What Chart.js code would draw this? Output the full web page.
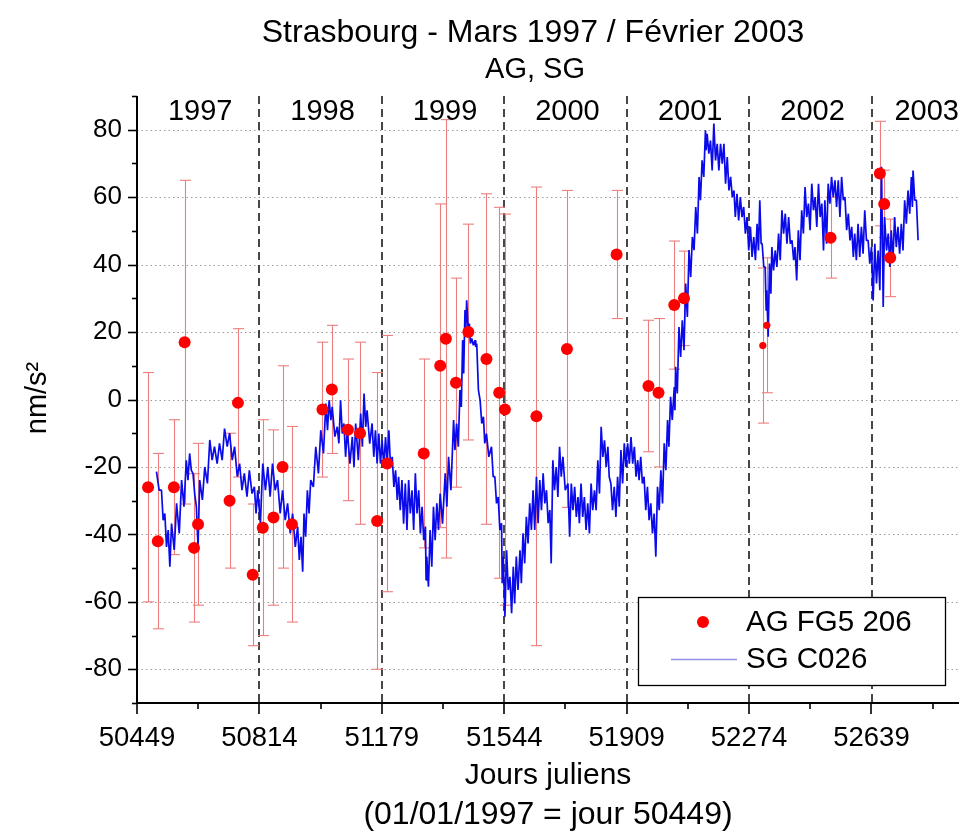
<!DOCTYPE html>
<html>
<head>
<meta charset="utf-8">
<script src="https://cdn.jsdelivr.net/npm/chart.js@4.4.1/dist/chart.umd.min.js"></script>
<style>
  html, body { margin: 0; padding: 0; background: #fff; }
  #wrap { width: 965px; height: 834px; }
</style>
</head>
<body>
<div id="wrap"><canvas id="chart" width="965" height="834"></canvas></div>
<script>
// Absolute gravity measurements (FG5 #206): Julian day, value and uncertainty (nm/s²)
const agDays = [50482, 50511, 50559, 50591, 50619, 50631, 50725, 50750, 50794, 50824,
                50856, 50883, 50911, 51002, 51030, 51078, 51114, 51165, 51195, 51304,
                51353, 51370, 51400, 51437, 51491, 51529, 51546, 51640, 51731, 51879,
                51974, 52004, 52051, 52080, 52315, 52327, 52517, 52664, 52677, 52695];
const agValues = [-26, -42, -26, 17, -44, -37, -30, -1, -52, -38,
                  -35, -20, -37, -3, 3, -9, -10, -36, -19, -16,
                  10, 18, 5, 20, 12, 2, -3, -5, 15, 43,
                  4, 2, 28, 30, 16, 22, 48, 67, 58, 42];
const agErrors = [34, 26, 20, 48, 22, 24, 20, 22, 21, 32,
                  26, 30, 29, 20, 19, 21, 27, 44, 38, 28,
                  48, 65, 31, 32, 49, 55, 58, 68, 47, 19,
                  19.5, 22, 19, 14, 23, 20, 12, 15.5, 10, 11.5];

// Superconducting gravimeter C026 residuals: Julian day / value (nm/s²)
const sgDays = [
  50507,50515, 50522,50527, 50532,50537, 50542,50547, 50552,50560, 50567,50575, 50582,50589, 50596,50601, 50606,50611, 50616,50621,
  50626,50631, 50636,50644, 50651,50659, 50666,50673, 50680,50688, 50695,50703, 50710,50718, 50725,50733, 50740,50748, 50755,50762,
  50769,50777, 50784,50792, 50799,50804, 50809,50817, 50824,50832, 50839,50846, 50853,50861, 50868,50876, 50883,50891, 50898,50906,
  50913,50921, 50928,50933, 50938,50943, 50947,50952, 50957,50962, 50967,50975, 50982,50990, 50997,51005, 51012,51017, 51022,51027,
  51031,51039, 51046,51051, 51056,51061, 51066,51071, 51076,51084, 51091,51096, 51101,51109, 51116,51121, 51126,51131, 51135,51143,
  51150,51155, 51160,51165, 51170,51175, 51180,51185, 51190,51195, 51200,51205, 51210,51215, 51220,51225, 51229,51234, 51239,51244,
  51249,51254, 51259,51264, 51269,51274, 51279,51284, 51289,51294, 51299,51304, 51309,51311, 51313,51318, 51323,51328, 51333,51338,
  51343,51348, 51353,51360, 51368,51373, 51378,51385, 51393,51397, 51402,51407, 51412,51416, 51420,51423, 51427,51429, 51432,51436,
  51440,51443, 51447,51452, 51457,51459, 51462,51467, 51472,51477, 51482,51486, 51491,51498, 51506,51511, 51516,51521, 51526,51531,
  51536,51538, 51541,51546, 51551,51556, 51561,51566, 51571,51575, 51580,51585, 51591,51595, 51600,51605, 51610,51615, 51620,51625,
  51630,51635, 51640,51645, 51650,51655, 51660,51665, 51670,51675, 51680,51684, 51689,51694, 51699,51704, 51709,51714, 51719,51726,
  51734,51739, 51744,51749, 51754,51759, 51764,51768, 51773,51778, 51783,51788, 51793,51798, 51803,51808, 51813,51818, 51823,51828,
  51833,51838, 51843,51848, 51853,51857, 51862,51867, 51872,51877, 51882,51887, 51892,51897, 51902,51907, 51912,51917, 51922,51927,
  51932,51937, 51942,51946, 51951,51956, 51961,51966, 51971,51976, 51981,51986, 51991,51996, 52001,52006, 52011,52016, 52021,52026,
  52031,52035, 52040,52045, 52051,52053, 52055,52060, 52065,52070, 52075,52080, 52085,52090, 52095,52100, 52105,52110, 52115,52120,
  52125,52129, 52134,52139, 52144,52146, 52149,52154, 52159,52164, 52169,52174, 52179,52184, 52189,52194, 52199,52204, 52209,52214,
  52219,52224, 52229,52233, 52238,52243, 52248,52253, 52258,52263, 52268,52273, 52278,52283, 52288,52293, 52298,52302, 52306,52310,
  52313,52318, 52322,52325, 52327,52331, 52335,52339, 52342,52347, 52352,52357, 52362,52367, 52372,52377, 52382,52387, 52392,52397,
  52402,52407, 52411,52416, 52421,52426, 52431,52436, 52441,52446, 52451,52456, 52461,52466, 52471,52476, 52481,52486, 52491,52496,
  52500,52505, 52510,52515, 52520,52525, 52530,52535, 52540,52545, 52550,52555, 52560,52565, 52570,52575, 52580,52585, 52589,52594,
  52599,52604, 52609,52614, 52619,52624, 52629,52634, 52639,52644, 52649,52654, 52659,52664, 52669,52674, 52678,52684, 52689,52694,
  52698,52703, 52708,52713, 52718,52723, 52728,52733, 52738,52743, 52748,52753, 52758,52761, 52763,52768, 52773,52778
];
const sgValues = [
  -21.4,-26.9, -26.9,-35.8, -33.8,-43.7, -38.7,-49.6, -36.8,-44.6, -30.8,-39.7, -23.9,-31.8, -18,-23.9, -16,-21, -21.9,-27.9,
  -31.8,-43.7, -23.9,-29.8, -20,-24.9, -12,-18, -14,-19, -13,-18, -8.6,-14, -10,-18, -14,-22.9, -19,-26.9,
  -21.9,-28.8, -21,-27.9, -25.9,-33.8, -26.9,-36.7, -19,-26.9, -20,-28.8, -19,-26.9, -23.9,-33.8, -26.9,-35.8, -30.8,-39.7,
  -33.8,-43.7, -37.7,-47.6, -40.7,-51.1, -33.8,-40.7, -26.9,-33.8, -23.9,-25.9, -14,-21.9, -9.1,-16, -1.2,-9.1, -0.2,-6.1,
  -2.2,-11, -8.1,-13, -0.2,-10.1, -7.1,-17, -9.1,-19, -11.1,-20, -7.1,-18, -4.2,-14, 1.8,-8.1, -3.2,-13.1,
  -7.1,-17, -9.1,-19, -10.1,-19, -12.1,-20, -11.1,-19, -9.1,-20, -17,-25.9, -21,-29.8, -22.9,-32.8, -23.9,-36.8,
  -24.9,-38.7, -23.9,-33.8, -26.9,-38.7, -21.9,-33.8, -26.9,-39.7, -31.8,-41.7, -37.7,-53.5, -46.6,-55.5, -38.7,-49.6, -31.8,-41.7,
  -30.8,-38.7, -27.9,-36.8, -21.9,-31.8, -17,-26.9, -6.1,-15, -7.1,-14, 2.8,-2.2, 17.6,7.7, 26.5,19.5, 29.4,21.5,
  22.5,16.6, 18.1,16.1, 17.6,15.6, 16.6,2.8, -0.2,-7.1, -5.1,-13, -10.1,-17, -14,-22.9, -22.9,-30.8, -28.9,-38.7,
  -36.7,-54.5, -46.6,-64.4, -44.7,-56.5, -52.6,-63.4, -49.6,-60.5, -46.6,-56.5, -44.7,-54.5, -39.7,-48.6, -34.8,-42.7, -30.8,-38.7,
  -26.9,-38.7, -22.9,-36.7, -23.9,-32.8, -21.9,-30.8, -26.9,-36.7, -32.8,-48.6, -18,-26.9, -20,-28.9, -14,-22.9, -17,-26.9,
  -24.9,-40.7, -24.9,-32.8, -25.9,-34.8, -28.9,-36.7, -24.9,-34.8, -28.9,-38.7, -30.8,-39.7, -24.9,-32.8, -26.9,-32.8, -18,-27.9,
  -8.1,-17, -12.1,-20, -14,-22.9, -24.9,-32.8, -25.9,-34.8, -22.9,-31.8, -15,-24.9, -13,-20, -13,-19, -11.1,-19,
  -14,-22.9, -18,-23.9, -17,-24.9, -22.9,-32.8, -25.9,-35.8, -30.8,-39.7, -33.8,-46.6, -25.9,-32.8, -21,-30.8, -13,-21,
  -6.1,-14, 0.8,-6.1, 3.7,-3.2, 9.7,1.8, 21.5,12.6, 23.5,14.6, 34.4,24.5, 44.3,36.3, 48.2,44.3, 57.1,49.2,
  66,59.1, 70.9,66, 79.8,73.9, 78.8,72.9, 76.8,67.9, 81.8,70.9, 75.8,67.9, 75.8,69.9, 75.8,64, 71.9,62,
  66,60, 62,54.1, 61,53.1, 60,54.1, 57.1,49.2, 54.1,44.2, 51.2,42.3, 48.2,41.3, 52.1,44.2, 59.1,46.2,
  46.2,39.3, 39.3,26.5, 32.4,18.6, 40.3,31.4, 45.2,38.3, 44.2,39.3, 49.2,41.3, 56.1,49.2, 55.1,46.2, 54.1,46.2,
  47.2,41.3, 45.2,35.3, 50.2,41.3, 56.1,49.2, 63,54.1, 58.1,50.2, 64,56.1, 60,51.2, 64,54.1, 58.1,44.2,
  59.1,46.2, 64,58.1, 66,60, 65,57.1, 65,54.1, 66,59.1, 60,50.2, 55.1,47.2, 51.2,42.3, 49.2,41.3,
  52.1,42.3, 51.2,43.2, 56.1,47.2, 47.2,40.3, 45.2,29.4, 46.2,34.4, 44.2,32.4, 69,27.4, 54.1,44.2, 49.2,39.3,
  50.2,41.3, 54.1,45.2, 51.2,43.2, 52.1,44.2, 59.1,52.1, 62,55.1, 66,57.1, 67.9,59.1, 59.1,47.2
];

// Axis ticks and year bands
const xTickDays = [50449, 50814, 51179, 51544, 51909, 52274, 52639];
const yTickValues = [-80, -60, -40, -20, 0, 20, 40, 60, 80];
const yearLabels = ['1997', '1998', '1999', '2000', '2001', '2002', '2003'];
const yearStarts = [50449, 50814, 51179, 51544, 51910, 52275, 52640];

const X_MIN = 50449, X_MAX = 52900, Y_MIN = -90, Y_MAX = 90;
const FONT = "'Liberation Sans', Arial, Helvetica, sans-serif";
const smallMarkers = new Set([34, 35]);

const agPoints = agDays.map((d, i) => ({ x: d, y: agValues[i] }));
const sgPoints = sgDays.map((d, i) => ({ x: d, y: sgValues[i] }));

function vLine(ctx, x, y1, y2) { ctx.beginPath(); ctx.moveTo(x, y1); ctx.lineTo(x, y2); ctx.stroke(); }
function hLine(ctx, y, x1, x2) { ctx.beginPath(); ctx.moveTo(x1, y); ctx.lineTo(x2, y); ctx.stroke(); }

const decorations = {
  id: 'decorations',
  beforeDatasetsDraw(chart) {
    const { ctx, chartArea: a, scales: { x, y } } = chart;
    ctx.save();
    // dotted horizontal grid
    ctx.strokeStyle = '#9c9c9c';
    ctx.lineWidth = 1;
    ctx.setLineDash([1.5, 3]);
    yTickValues.forEach(v => hLine(ctx, Math.round(y.getPixelForValue(v)) + 0.5, a.left, a.right));
    // dashed year boundaries
    ctx.strokeStyle = '#1a1a1a';
    ctx.lineWidth = 1.6;
    ctx.setLineDash([8, 5]);
    yearStarts.slice(1).forEach(d => vLine(ctx, Math.round(x.getPixelForValue(d)), a.top, a.bottom));
    // error bars of the absolute measurements
    ctx.setLineDash([]);
    ctx.strokeStyle = 'rgb(238,125,125)';
    ctx.lineWidth = 1.1;
    agDays.forEach((d, i) => {
      const px = Math.round(x.getPixelForValue(d)) + 0.5;
      const top = y.getPixelForValue(agValues[i] + agErrors[i]);
      const bot = y.getPixelForValue(agValues[i] - agErrors[i]);
      vLine(ctx, px, top, bot);
      hLine(ctx, top, px - 5.5, px + 5.5);
      hLine(ctx, bot, px - 5.5, px + 5.5);
    });
    ctx.restore();
  },
  afterDraw(chart) {
    const { ctx, chartArea: a, scales: { x, y } } = chart;
    ctx.save();
    // axis lines
    ctx.strokeStyle = '#000';
    ctx.lineWidth = 2;
    vLine(ctx, a.left, a.top, a.bottom + 1);
    hLine(ctx, a.bottom, a.left - 1, a.right);
    // y ticks: major every 20, minor in between
    ctx.lineWidth = 1.6;
    for (let v = Y_MIN; v <= Y_MAX; v += 10) {
      const py = Math.round(y.getPixelForValue(v)) + 0.5;
      const len = yTickValues.includes(v) ? 9 : 5;
      hLine(ctx, py, a.left - len, a.left);
    }
    // x ticks: major every 365 days, minor at half years
    xTickDays.forEach(d => {
      const px = Math.round(x.getPixelForValue(d));
      vLine(ctx, px, a.bottom, a.bottom + 11);
      if (d + 182.5 < X_MAX) {
        const pm = Math.round(x.getPixelForValue(d + 182.5));
        vLine(ctx, pm, a.bottom, a.bottom + 6);
      }
    });
    // year labels
    ctx.fillStyle = '#000';
    ctx.font = '29px ' + FONT;
    ctx.textAlign = 'center';
    ctx.textBaseline = 'middle';
    yearLabels.forEach((lab, i) => {
      const half = ctx.measureText(lab).width / 2;
      let cx = x.getPixelForValue(yearStarts[i] + 182.5);
      cx = Math.min(cx, a.right - half - 2);
      ctx.fillText(lab, cx + 2, 112);
    });
    // legend
    const lx = 638, ly = 597, lw = 307, lh = 88;
    ctx.fillStyle = '#fff';
    ctx.fillRect(lx, ly, lw, lh);
    ctx.strokeStyle = '#000';
    ctx.lineWidth = 1.3;
    ctx.strokeRect(lx + 0.5, ly + 0.5, lw, lh);
    ctx.fillStyle = '#f00';
    ctx.beginPath(); ctx.arc(703, 622, 6, 0, Math.PI * 2); ctx.fill();
    ctx.strokeStyle = '#9090e6';
    ctx.lineWidth = 1.3;
    hLine(ctx, 659.5, 671, 737);
    ctx.fillStyle = '#000';
    ctx.font = '29.5px ' + FONT;
    ctx.textAlign = 'left';
    ctx.fillText('AG FG5 206', 746, 623);
    ctx.fillText('SG C026', 746, 660);
    // titles
    ctx.textAlign = 'center';
    ctx.font = '32px ' + FONT;
    ctx.fillText('Strasbourg - Mars 1997 / Février 2003', 533, 33);
    ctx.font = '29px ' + FONT;
    ctx.fillText('AG, SG', 535, 70);
    ctx.font = '30px ' + FONT;
    ctx.fillText('Jours juliens', 548, 776);
    ctx.font = '32px ' + FONT;
    ctx.fillText('(01/01/1997 = jour 50449)', 548, 815);
    ctx.font = '29px ' + FONT;
    ctx.save();
    ctx.translate(38, 398);
    ctx.rotate(-Math.PI / 2);
    ctx.fillText('nm/s²', 0, 0);
    ctx.restore();
    ctx.restore();
  }
};

new Chart(document.getElementById('chart'), {
  data: {
    datasets: [
      {
        type: 'scatter',
        label: 'AG FG5 206',
        data: agPoints,
        order: 0,
        pointBackgroundColor: '#ff0000',
        pointBorderWidth: 0,
        pointRadius: ctx => smallMarkers.has(ctx.dataIndex) ? 3.6 : 6
      },
      {
        type: 'line',
        label: 'SG C026',
        data: sgPoints,
        order: 1,
        borderColor: 'rgb(10,10,235)',
        borderWidth: 1.7,
        borderJoinStyle: 'bevel',
        pointRadius: 0,
        tension: 0,
        fill: false
      }
    ]
  },
  options: {
    responsive: false,
    animation: false,
    devicePixelRatio: 1,
    layout: { padding: { top: 96, right: 2, left: 0, bottom: 0 } },
    plugins: { legend: { display: false }, title: { display: false }, tooltip: { enabled: false } },
    scales: {
      x: {
        type: 'linear',
        min: X_MIN,
        max: X_MAX,
        afterBuildTicks: s => { s.ticks = xTickDays.map(v => ({ value: v })); },
        afterFit: s => { s.height = 131; },
        grid: { display: false, drawTicks: false },
        border: { display: false },
        ticks: {
          autoSkip: false, maxRotation: 0, padding: 19, color: '#000',
          font: { family: FONT, size: 27.5 },
          callback: v => String(v)
        }
      },
      y: {
        type: 'linear',
        min: Y_MIN,
        max: Y_MAX,
        afterBuildTicks: s => { s.ticks = yTickValues.map(v => ({ value: v })); },
        afterFit: s => { s.width = 137; },
        grid: { display: false, drawTicks: false },
        border: { display: false },
        ticks: {
          padding: 15, color: '#000',
          font: { family: FONT, size: 26 },
          callback: v => String(v)
        }
      }
    }
  },
  plugins: [decorations]
});
</script>
</body>
</html>
